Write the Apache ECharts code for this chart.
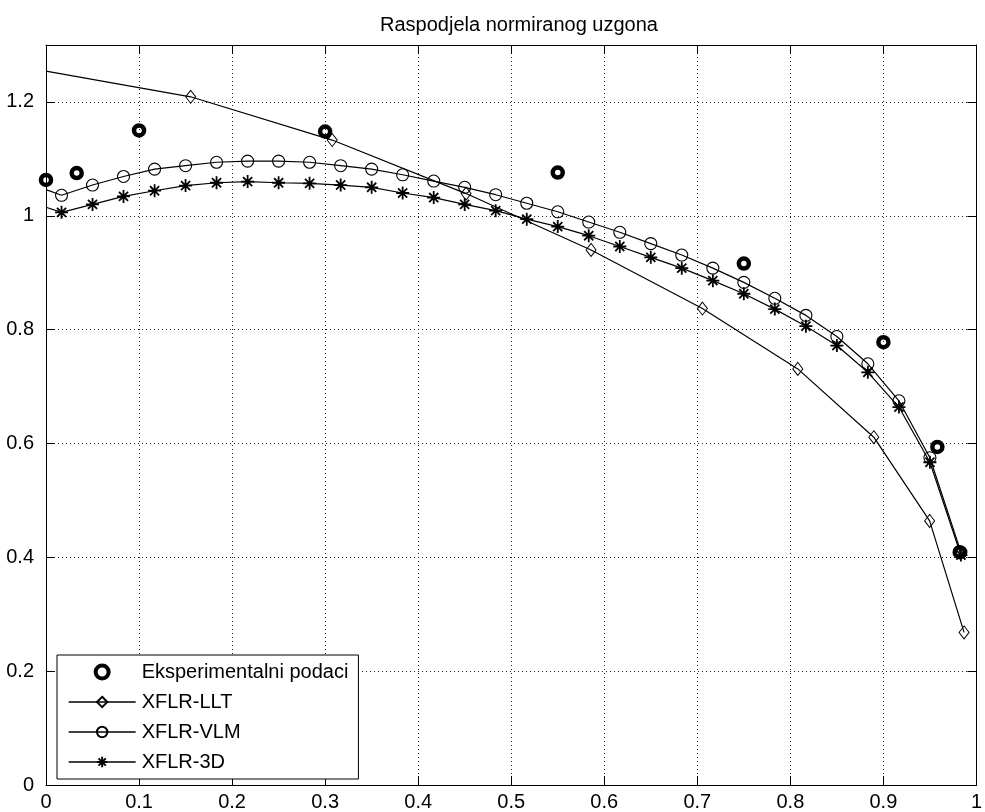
<!DOCTYPE html>
<html>
<head>
<meta charset="utf-8">
<script src="https://cdn.jsdelivr.net/npm/echarts@6/dist/echarts.min.js"></script>
<style>
  html, body { margin: 0; padding: 0; background: #fff; }
  #chart { width: 985px; height: 812px; }
</style>
</head>
<body>
<div id="chart"></div>
<script>
// experimental points
const expX = [0, 0.033, 0.1, 0.3, 0.55, 0.75, 0.9, 0.958, 0.982];
const expY = [1.063, 1.075, 1.150, 1.148, 1.076, 0.916, 0.778, 0.594, 0.409];

// XFLR-LLT (first point only starts the line, no marker)
const lltX = [0, 0.1555, 0.3076, 0.4515, 0.5858, 0.7055, 0.808, 0.8897, 0.9497, 0.9867];
const lltY = [1.254, 1.209, 1.133, 1.039, 0.940, 0.837, 0.731, 0.611, 0.464, 0.268];

// panel stations shared by VLM and 3D (first one only starts the line)
const panelX = [0, 0.0167, 0.05, 0.0833, 0.1167, 0.15, 0.1833, 0.2167, 0.25, 0.2833, 0.3167,
  0.35, 0.3833, 0.4167, 0.45, 0.4833, 0.5167, 0.55, 0.5833, 0.6167, 0.65,
  0.6833, 0.7167, 0.75, 0.7833, 0.8167, 0.85, 0.8833, 0.9167, 0.95, 0.9833];
const vlmY = [1.046, 1.036, 1.054, 1.069, 1.082, 1.088, 1.094, 1.096, 1.096, 1.094, 1.088,
  1.082, 1.072, 1.061, 1.050, 1.037, 1.022, 1.007, 0.989, 0.971, 0.951,
  0.931, 0.908, 0.883, 0.855, 0.825, 0.788, 0.740, 0.675, 0.575, 0.409];
const d3Y = [1.015, 1.006, 1.020, 1.034, 1.044, 1.053, 1.058, 1.060, 1.058, 1.057, 1.054,
  1.050, 1.040, 1.032, 1.020, 1.009, 0.994, 0.981, 0.965, 0.946, 0.927,
  0.908, 0.886, 0.863, 0.836, 0.806, 0.772, 0.725, 0.664, 0.567, 0.404];

const seriesNames = ['Eksperimentalni podaci', 'XFLR-LLT', 'XFLR-VLM', 'XFLR-3D'];

const FONT = '"Liberation Sans", Arial, sans-serif';
const asterisk = 'path://M0,-10L0,10M-10,0L10,0M-7,-7L7,7M-7,7L7,-7';

// first point of a model line has no marker
function pts(xs, ys) {
  return xs.map((x, i) => i === 0 ? { value: [x, ys[i]], symbol: 'none' } : [x, ys[i]]);
}

const chart = echarts.init(document.getElementById('chart'), null, { renderer: 'canvas' });

const tickStyle = { show: true, inside: true, length: 9, lineStyle: { color: '#000', width: 1 } };
const gridLine = { show: true, lineStyle: { color: '#222', width: 1, type: [1, 3] } };
const clear = 'rgba(255,255,255,0)';

const option = {
  animation: false,
  backgroundColor: '#fff',
  title: {
    text: 'Raspodjela normiranog uzgona',
    left: 514, top: 10, textAlign: 'center',
    textStyle: { fontFamily: FONT, fontSize: 20, fontWeight: 'normal', color: '#000' }
  },
  grid: { left: 46, right: 1, top: 45, bottom: 27, containLabel: false },
  legend: {
    orient: 'vertical',
    left: 57, top: 655,
    padding: [7, 10, 7, 11],
    itemWidth: 67, itemHeight: 13, itemGap: 10,
    backgroundColor: '#fff',
    borderColor: '#000', borderWidth: 1, borderRadius: 0,
    textStyle: { fontFamily: FONT, fontSize: 20, color: '#000', padding: [0, 0, 0, 1] },
    data: [
      { name: seriesNames[0], itemStyle: { borderWidth: 4, color: clear, borderColor: '#000', opacity: 1 } },
      { name: seriesNames[1], lineStyle: { width: 1.3 } },
      { name: seriesNames[2], lineStyle: { width: 1.3 } },
      { name: seriesNames[3], lineStyle: { width: 1.3 } }
    ]
  },
  xAxis: [{
    type: 'value', min: 0, max: 1, interval: 0.1, position: 'bottom',
    axisLine: { show: true, onZero: false, lineStyle: { color: '#000', width: 1 } },
    axisTick: tickStyle,
    axisLabel: { fontFamily: FONT, fontSize: 20, color: '#000', margin: 7,
      formatter: v => String(+v.toFixed(1)) },
    splitLine: gridLine
  }, {
    type: 'value', min: 0, max: 1, interval: 0.1, position: 'top',
    axisLine: { show: true, onZero: false, lineStyle: { color: '#000', width: 1 } },
    axisTick: tickStyle, axisLabel: { show: false }, splitLine: { show: false }
  }],
  yAxis: [{
    type: 'value', min: 0, max: 1.3, interval: 0.2, position: 'left',
    axisLine: { show: true, onZero: false, lineStyle: { color: '#000', width: 1 } },
    axisTick: tickStyle,
    axisLabel: { fontFamily: FONT, fontSize: 20, color: '#000', margin: 12, showMaxLabel: false,
      formatter: v => String(+v.toFixed(1)) },
    splitLine: gridLine
  }, {
    type: 'value', min: 0, max: 1.3, interval: 0.2, position: 'right',
    axisLine: { show: true, onZero: false, lineStyle: { color: '#000', width: 1 } },
    axisTick: tickStyle, axisLabel: { show: false }, splitLine: { show: false }
  }],
  series: [{
    name: seriesNames[0],
    type: 'scatter',
    data: expX.map((x, i) => [x, expY[i]]),
    symbol: 'circle', symbolSize: 10,
    itemStyle: { color: clear, borderColor: '#000', borderWidth: 4.5, opacity: 1 },
    z: 5
  }, {
    name: seriesNames[1],
    type: 'line',
    data: pts(lltX, lltY),
    symbol: 'diamond', symbolSize: [10, 13],
    lineStyle: { color: '#000', width: 1.2 },
    itemStyle: { color: clear, borderColor: '#000', borderWidth: 1 }
  }, {
    name: seriesNames[2],
    type: 'line',
    data: pts(panelX, vlmY),
    symbol: 'circle', symbolSize: 12,
    lineStyle: { color: '#000', width: 1.2 },
    itemStyle: { color: clear, borderColor: '#000', borderWidth: 1.1 }
  }, {
    name: seriesNames[3],
    type: 'line',
    data: pts(panelX, d3Y),
    symbol: asterisk, symbolSize: 13, symbolKeepAspect: true,
    lineStyle: { color: '#000', width: 1.2 },
    itemStyle: { color: '#000', borderColor: '#000', borderWidth: 1.8 }
  }]
};

chart.setOption(option);
</script>
</body>
</html>
